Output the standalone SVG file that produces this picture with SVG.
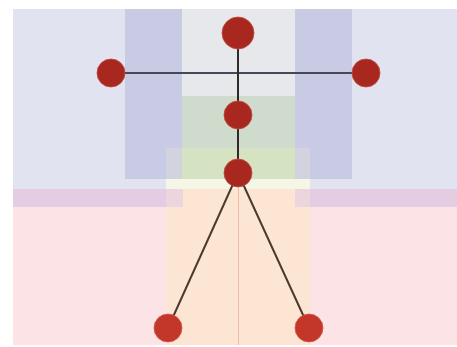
<svg xmlns="http://www.w3.org/2000/svg" width="457" height="347" viewBox="0 0 457 347">
  <style>
    .joint { fill: #a8281f; stroke: #c24a3e; stroke-width: 0.8; }
    .foot { fill: #c2372a; stroke: #d45a48; stroke-width: 0.8; }
    .bone { stroke: #2e2a2a; stroke-width: 2; fill: none; stroke-linecap: round; }
    .arm { stroke: #454858; stroke-width: 2; fill: none; }
    .leg { stroke: #4a3a2c; stroke-width: 2; fill: none; }
  </style>
  <rect x="0" y="0" width="457" height="347" fill="#ffffff"/>
  <g id="background">
    <rect x="13" y="9" width="444" height="180" fill="#e2e3f1"/>
    <rect x="13" y="189" width="444" height="156" fill="#fce3e6"/>
    <rect x="13" y="189" width="444" height="18" fill="#e4cce2"/>
    <rect x="125" y="9" width="57" height="170" fill="#c9cae3"/>
    <rect x="295" y="9" width="57" height="170" fill="#c9cae3"/>
    <rect x="182" y="9" width="113" height="87" fill="#e6e8ec"/>
    <rect x="182" y="96" width="113" height="52" fill="#cfdbcc"/>
    <rect x="182" y="148" width="113" height="31" fill="#d6e3c3"/>
    <rect x="166" y="148" width="16" height="31" fill="#d2d3de"/>
    <rect x="295" y="148" width="15" height="31" fill="#d2d3de"/>
    <rect x="166" y="179" width="144" height="10" fill="#f4f6e6"/>
    <rect x="166" y="189" width="144" height="156" fill="#fde5d3"/>
    <rect x="166" y="189" width="17" height="18" fill="#ecd5dc"/>
    <rect x="295" y="189" width="15" height="18" fill="#ecd5dc"/>
    <line x1="238.5" y1="185" x2="238.5" y2="345" stroke="#f2bba8" stroke-width="1"/>
  </g>
  <g id="connectors">
    <line class="arm" x1="111" y1="73" x2="366" y2="73"/>
    <line class="bone" x1="238" y1="33" x2="238" y2="173"/>
    <line class="leg" x1="238" y1="173" x2="168" y2="328"/>
    <line class="leg" x1="238" y1="173" x2="309" y2="328"/>
  </g>
  <g id="head"><circle class="joint" cx="238" cy="33" r="16"/></g>
  <g id="left-hand"><circle class="joint" cx="111" cy="73" r="14"/></g>
  <g id="right-hand"><circle class="joint" cx="366" cy="73" r="14"/></g>
  <g id="chest"><circle class="joint" cx="238" cy="115" r="14"/></g>
  <g id="hip"><circle class="joint" cx="238" cy="173" r="14"/></g>
  <g id="left-foot"><circle class="foot" cx="168" cy="328" r="14"/></g>
  <g id="right-foot"><circle class="foot" cx="309" cy="328" r="14"/></g>
</svg>
